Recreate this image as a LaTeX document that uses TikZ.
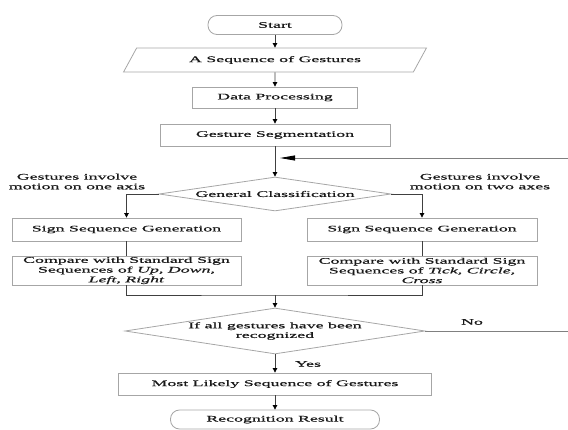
\documentclass[tikz,border=0pt]{standalone}
\usepackage{fontspec}
\setmainfont{Liberation Serif}[FakeStretch=2.1,FakeBold=0.7]
\usetikzlibrary{shapes.geometric,arrows.meta}

\begin{document}
\begin{tikzpicture}[x=1pt,y=-1pt,
  font=\fontsize{8.5pt}{9.7pt}\selectfont, text=black!90,
  box/.style={draw=black!35,line width=0.8pt,inner sep=1pt,align=center},
  term/.style={box,rounded corners=9pt},
  iobox/.style={box,trapezium,trapezium left angle=50,trapezium right angle=130,trapezium stretches=true},
  decide/.style={draw=black!35,line width=0.8pt,diamond,inner sep=0pt},
  flow/.style={draw=black!75,line width=0.7pt,-{Triangle[length=4.5pt,width=4.5pt,color=black]}},
  link/.style={draw=black!75,line width=0.7pt},
  back/.style={draw=black!50,line width=0.8pt,-{Triangle[length=15pt,width=5pt,color=black]}}]
  \useasboundingbox (0,0) rectangle (568,430);
  \node[term,minimum width=134pt,minimum height=19pt] (start) at (275,25) {Start};
  \node[iobox,minimum width=303pt,minimum height=24pt] (seq) at (275,60) {A Sequence of Gestures};
  \node[box,minimum width=165pt,minimum height=21pt] (proc) at (275,97.5) {Data Processing};
  \node[box,minimum width=230pt,minimum height=22pt] (seg) at (275,135) {Gesture Segmentation};
  \node[decide,minimum width=232pt,minimum height=34pt,label=center:{General Classification}] (cls) at (275,194) {};
  \node[align=center] (oneax) at (77,181.5) {Gestures involve\\motion on one axis};
  \node[align=center] (twoax) at (480,181.5) {Gestures involve\\motion on two axes};
  \node[box,minimum width=229pt,minimum height=23pt] (sgL) at (126.5,229.5) {Sign Sequence Generation};
  \node[box,minimum width=230pt,minimum height=23pt] (sgR) at (422,229.5) {Sign Sequence Generation};
  \node[box,minimum width=229pt,minimum height=29pt] (cmpL) at (126.5,270.5) {Compare with Standard Sign\\Sequences of \textit{Up, Down,}\\\textit{Left, Right}};
  \node[box,minimum width=230pt,minimum height=29pt] (cmpR) at (422,270.5) {Compare with Standard Sign\\Sequences of \textit{Tick, Circle,}\\\textit{Cross}};
  \node[decide,minimum width=300pt,minimum height=46pt,label={[align=center]center:If all gestures have been\\recognized}] (chk) at (275,331) {};
  \node[box,minimum width=313pt,minimum height=22pt] (best) at (275,384) {Most Likely Sequence of Gestures};
  \node[term,minimum width=209pt,minimum height=19pt] (res) at (275,419.5) {Recognition Result};
  \node (yes) at (308,364) {Yes};
  \node (no) at (472,322) {No};
  \coordinate (mrg) at (275,295);
  \coordinate (loop) at (572,158);
  \coordinate (join) at (280,158);
  \draw[flow] (start) -- (seq);
  \draw[flow] (seq) -- (proc);
  \draw[flow] (proc) -- (seg);
  \draw[flow] (seg) -- (cls.north);
  \draw[flow] (cls.west) -| (sgL.north);
  \draw[flow] (cls.east) -| (sgR.north);
  \draw[link] (sgL) -- (cmpL);
  \draw[link] (sgR) -- (cmpR);
  \draw[link] (cmpL.south) |- (mrg) -| (cmpR.south);
  \draw[flow] (mrg) -- (chk.north);
  \draw[flow] (chk.south) -- (best);
  \draw[flow] (best) -- (res);
  \draw[back] (chk.east) -| (loop) -- (join);
\end{tikzpicture}
\end{document}
